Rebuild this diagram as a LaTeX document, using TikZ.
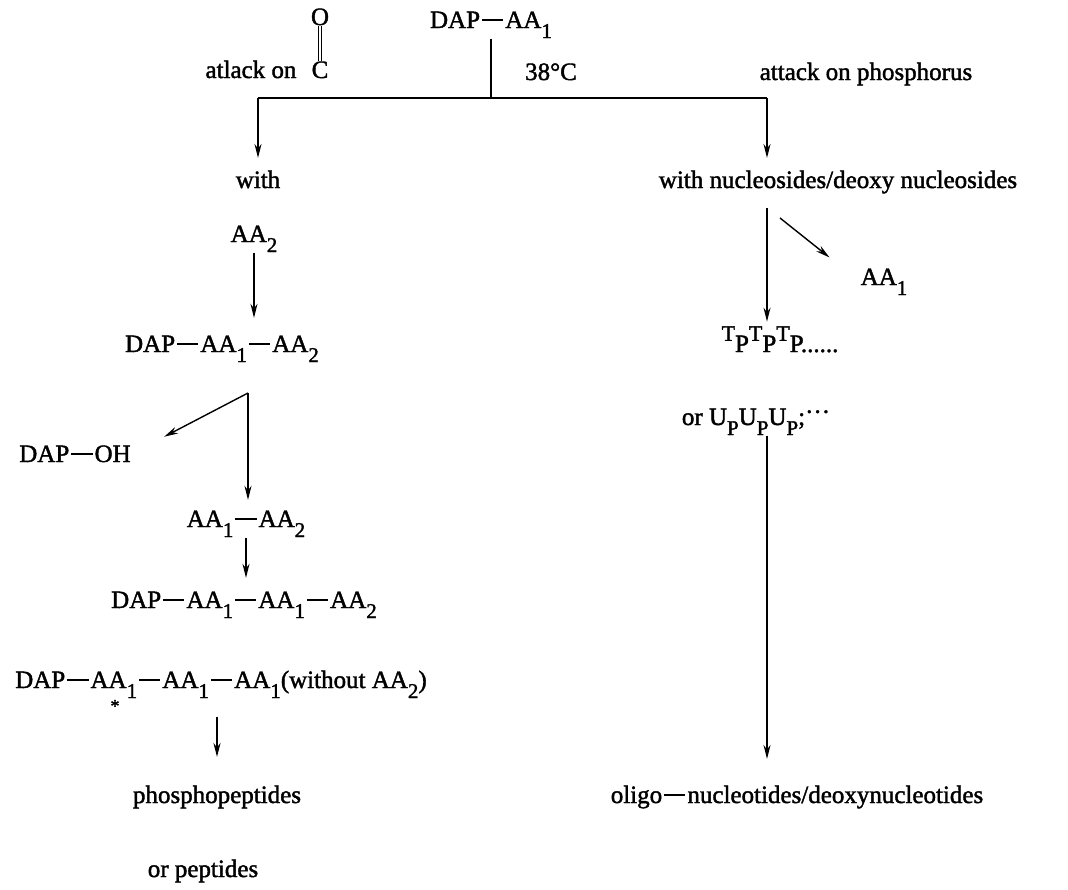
\documentclass[tikz,border=0pt]{standalone}
\usepackage{fontspec}
\setmainfont{Liberation Serif}
\newfontfamily\scanfont{Liberation Serif}[FakeBold=1.6]
\usetikzlibrary{arrows.meta}

\newcommand{\lo}[1]{\raisebox{-0.4em}{\fontsize{21}{21}\selectfont #1}}
\newcommand{\hi}[1]{\raisebox{0.45em}{\fontsize{22}{22}\selectfont #1}}
\newcommand{\bd}{\kern0.08em\rule[0.3em]{0.85em}{0.08em}\kern0.08em}

\begin{document}
\begin{tikzpicture}[x=1pt, y=-1pt, line width=1.4pt,
    >={Stealth[length=14pt, width=7pt]},
    every node/.style={inner sep=0pt, font=\scanfont\fontsize{25}{30}\selectfont},
    lbl/.style={anchor=base},
    bond/.style={double, double distance=2pt, line width=0.9pt}]

    % Page
    \useasboundingbox (0,0) rectangle (1068,889);

    % Starting compound and conditions
    \node[lbl] (dapaa) at (491,28) {DAP\bd AA\lo{1}};
    \node[lbl] (temp) at (551,80) {38°C};
    \node[lbl] (oxy) at (320,25) {O};
    \node[lbl] (carb) at (320,78) {C};
    \draw[bond] (oxy) -- (carb);
    \node[lbl] (atkc) at (251,78) {atlack on};
    \node[lbl] (atkp) at (866,80) {attack on phosphorus};

    % Branching
    \coordinate (split) at (491,98);
    \coordinate (lt) at (258,98);
    \coordinate (rt) at (767,98);
    \draw (dapaa.south -| split) -- (split);
    \draw (lt) -- (rt);

    % Left branch: peptides
    \node[lbl] (with) at (258,188) {with};
    \node[lbl] (aa2) at (254,242) {AA\lo{2}};
    \node[lbl] (dapaa12) at (222,352) {DAP\bd AA\lo{1}\bd AA\lo{2}};
    \node[lbl] (dapoh) at (75,462) {DAP\bd OH};
    \node[lbl] (aa1aa2) at (246,527) {AA\lo{1}\bd AA\lo{2}};
    \node[lbl] (dapaaa) at (244,608) {DAP\bd AA\lo{1}\bd AA\lo{1}\bd AA\lo{2}};
    \node[lbl] (dapaaa3) at (221,688) {DAP\bd AA\lo{1}\bd AA\lo{1}\bd AA\lo{1}(without AA\lo{2})};
    \node (star) at (115,706) {\fontsize{18}{18}\selectfont *};
    \node[lbl] (phospho) at (217,803) {phosphopeptides};
    \node[lbl] (orpep) at (203,877) {or peptides};
    \coordinate (fork) at (248,393);

    \draw[->, shorten >=12pt] (lt) -- (with.north -| lt);
    \draw[->, shorten >=17pt] (aa2.south) -- (aa2.south |- dapaa12.north);
    \draw[->, shorten >=37pt] (fork) -- (dapoh.east);
    \draw[->, shorten >=10pt] (fork) -- (aa1aa2.north -| fork);
    \draw[->, shorten >=13pt] (aa1aa2.south) -- (aa1aa2.south |- dapaaa.north);
    \draw[->, shorten <=18pt, shorten >=28pt] (dapaaa3.south -| phospho) -- (phospho.north);

    % Right branch: nucleotides
    \node[lbl] (withnuc) at (838,188) {with nucleosides/deoxy nucleosides};
    \node[lbl] (aa1r) at (884,285) {AA\lo{1}};
    \node[lbl] (tptp) at (780,352) {\hi{T}P\hi{T}P\hi{T}P......};
    \node[lbl] (upup) at (756,425) {or U\lo{P}U\lo{P}U\lo{P};\raisebox{0.2em}{···}};
    \node[lbl] (oligo) at (797,803) {oligo\bd nucleotides/deoxynucleotides};
    \coordinate (loss) at (780,218);

    \draw[->, shorten >=12pt] (rt) -- (withnuc.north -| rt);
    \draw[->, shorten <=14pt, shorten >=4pt] (withnuc.south -| rt) -- (tptp.north -| rt);
    \draw[->, shorten >=39pt] (loss) -- (aa1r.west);
    \draw[->, shorten >=26pt] (upup.south -| rt) -- (oligo.north -| rt);
\end{tikzpicture}
\end{document}
